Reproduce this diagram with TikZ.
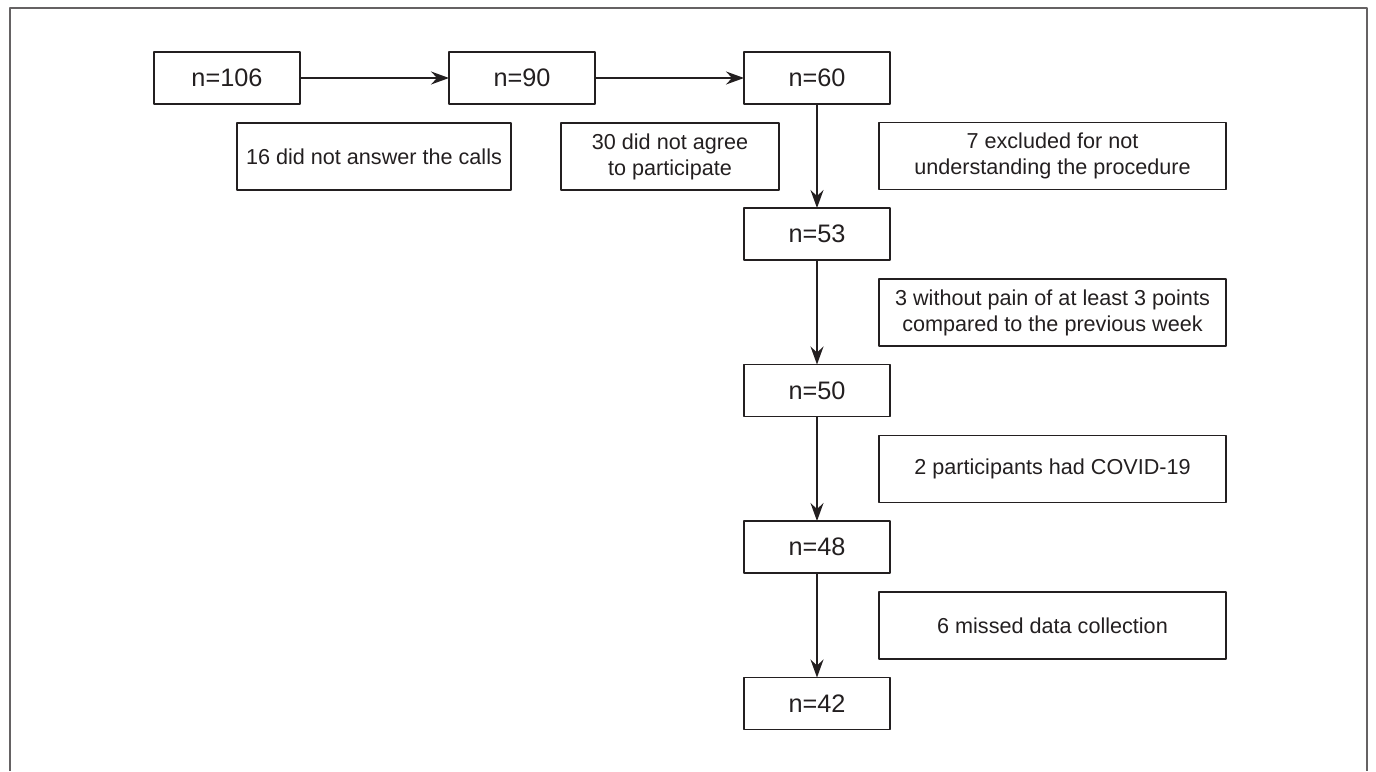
\documentclass[tikz,border=0pt]{standalone}
\usepackage{fontspec}
\setmainfont{Liberation Sans}
\usetikzlibrary{arrows.meta}
\definecolor{ink}{HTML}{231F20}
\tikzset{
	nbox/.style={draw=ink, line width=0.7pt, inner sep=0pt, outer sep=0pt,
		minimum width=2.92cm, minimum height=1.04cm, text=ink,
		font=\fontsize{14.4}{17}\selectfont},
	sidebox/.style={draw=ink, line width=0.7pt, inner sep=0pt, outer sep=0pt,
		minimum height=1.34cm, align=center, text=ink,
		font=\fontsize{12.3}{14.8}\selectfont},
	widebox/.style={sidebox, minimum width=6.94cm}
}
\begin{document}
\begin{tikzpicture}[x=0.02cm, y=-0.02cm, line join=round, >={Stealth[length=3.6mm, width=2.6mm, inset=1.2mm]}]
	%% Page and frame
	\def \colx{817}
	\def \sidex{1052.5}
	\useasboundingbox (0,0) rectangle (1376,771);
	\draw[ink!70, line width=1.1pt] (10,771) -- (10,8) -- (1367,8) -- (1367,771);
	%% Top row
	\node[nbox] (n106) at (227,78) {n=106};
	\node[nbox] (n90) at (522,78) {n=90};
	\node[nbox] (n60) at (\colx,78) {n=60};
	\node[sidebox, minimum width=5.48cm] (calls) at (374,156.5) {16 did not answer the calls};
	\node[sidebox, minimum width=4.36cm] (agree) at (670,156.5) {30 did not agree\\to participate};
	%% Main column
	\node[nbox] (n53) at (\colx,234) {n=53};
	\node[nbox] (n50) at (\colx,390.5) {n=50};
	\node[nbox] (n48) at (\colx,547) {n=48};
	\node[nbox] (n42) at (\colx,703.5) {n=42};
	%% Exclusions
	\node[widebox] (proc) at (\sidex,156) {7 excluded for not\\understanding the procedure};
	\node[widebox] (pain) at (\sidex,312.5) {3 without pain of at least 3 points\\compared to the previous week};
	\node[widebox] (covid) at (\sidex,469) {2 participants had COVID-19};
	\node[widebox] (missed) at (\sidex,625.5) {6 missed data collection};
	%% Arrows
	\foreach \a/\b in {n106/n90, n90/n60, n60/n53, n53/n50, n50/n48, n48/n42}
	\draw[->, ink, line width=0.7pt] (\a) -- (\b);
\end{tikzpicture}
\end{document}
